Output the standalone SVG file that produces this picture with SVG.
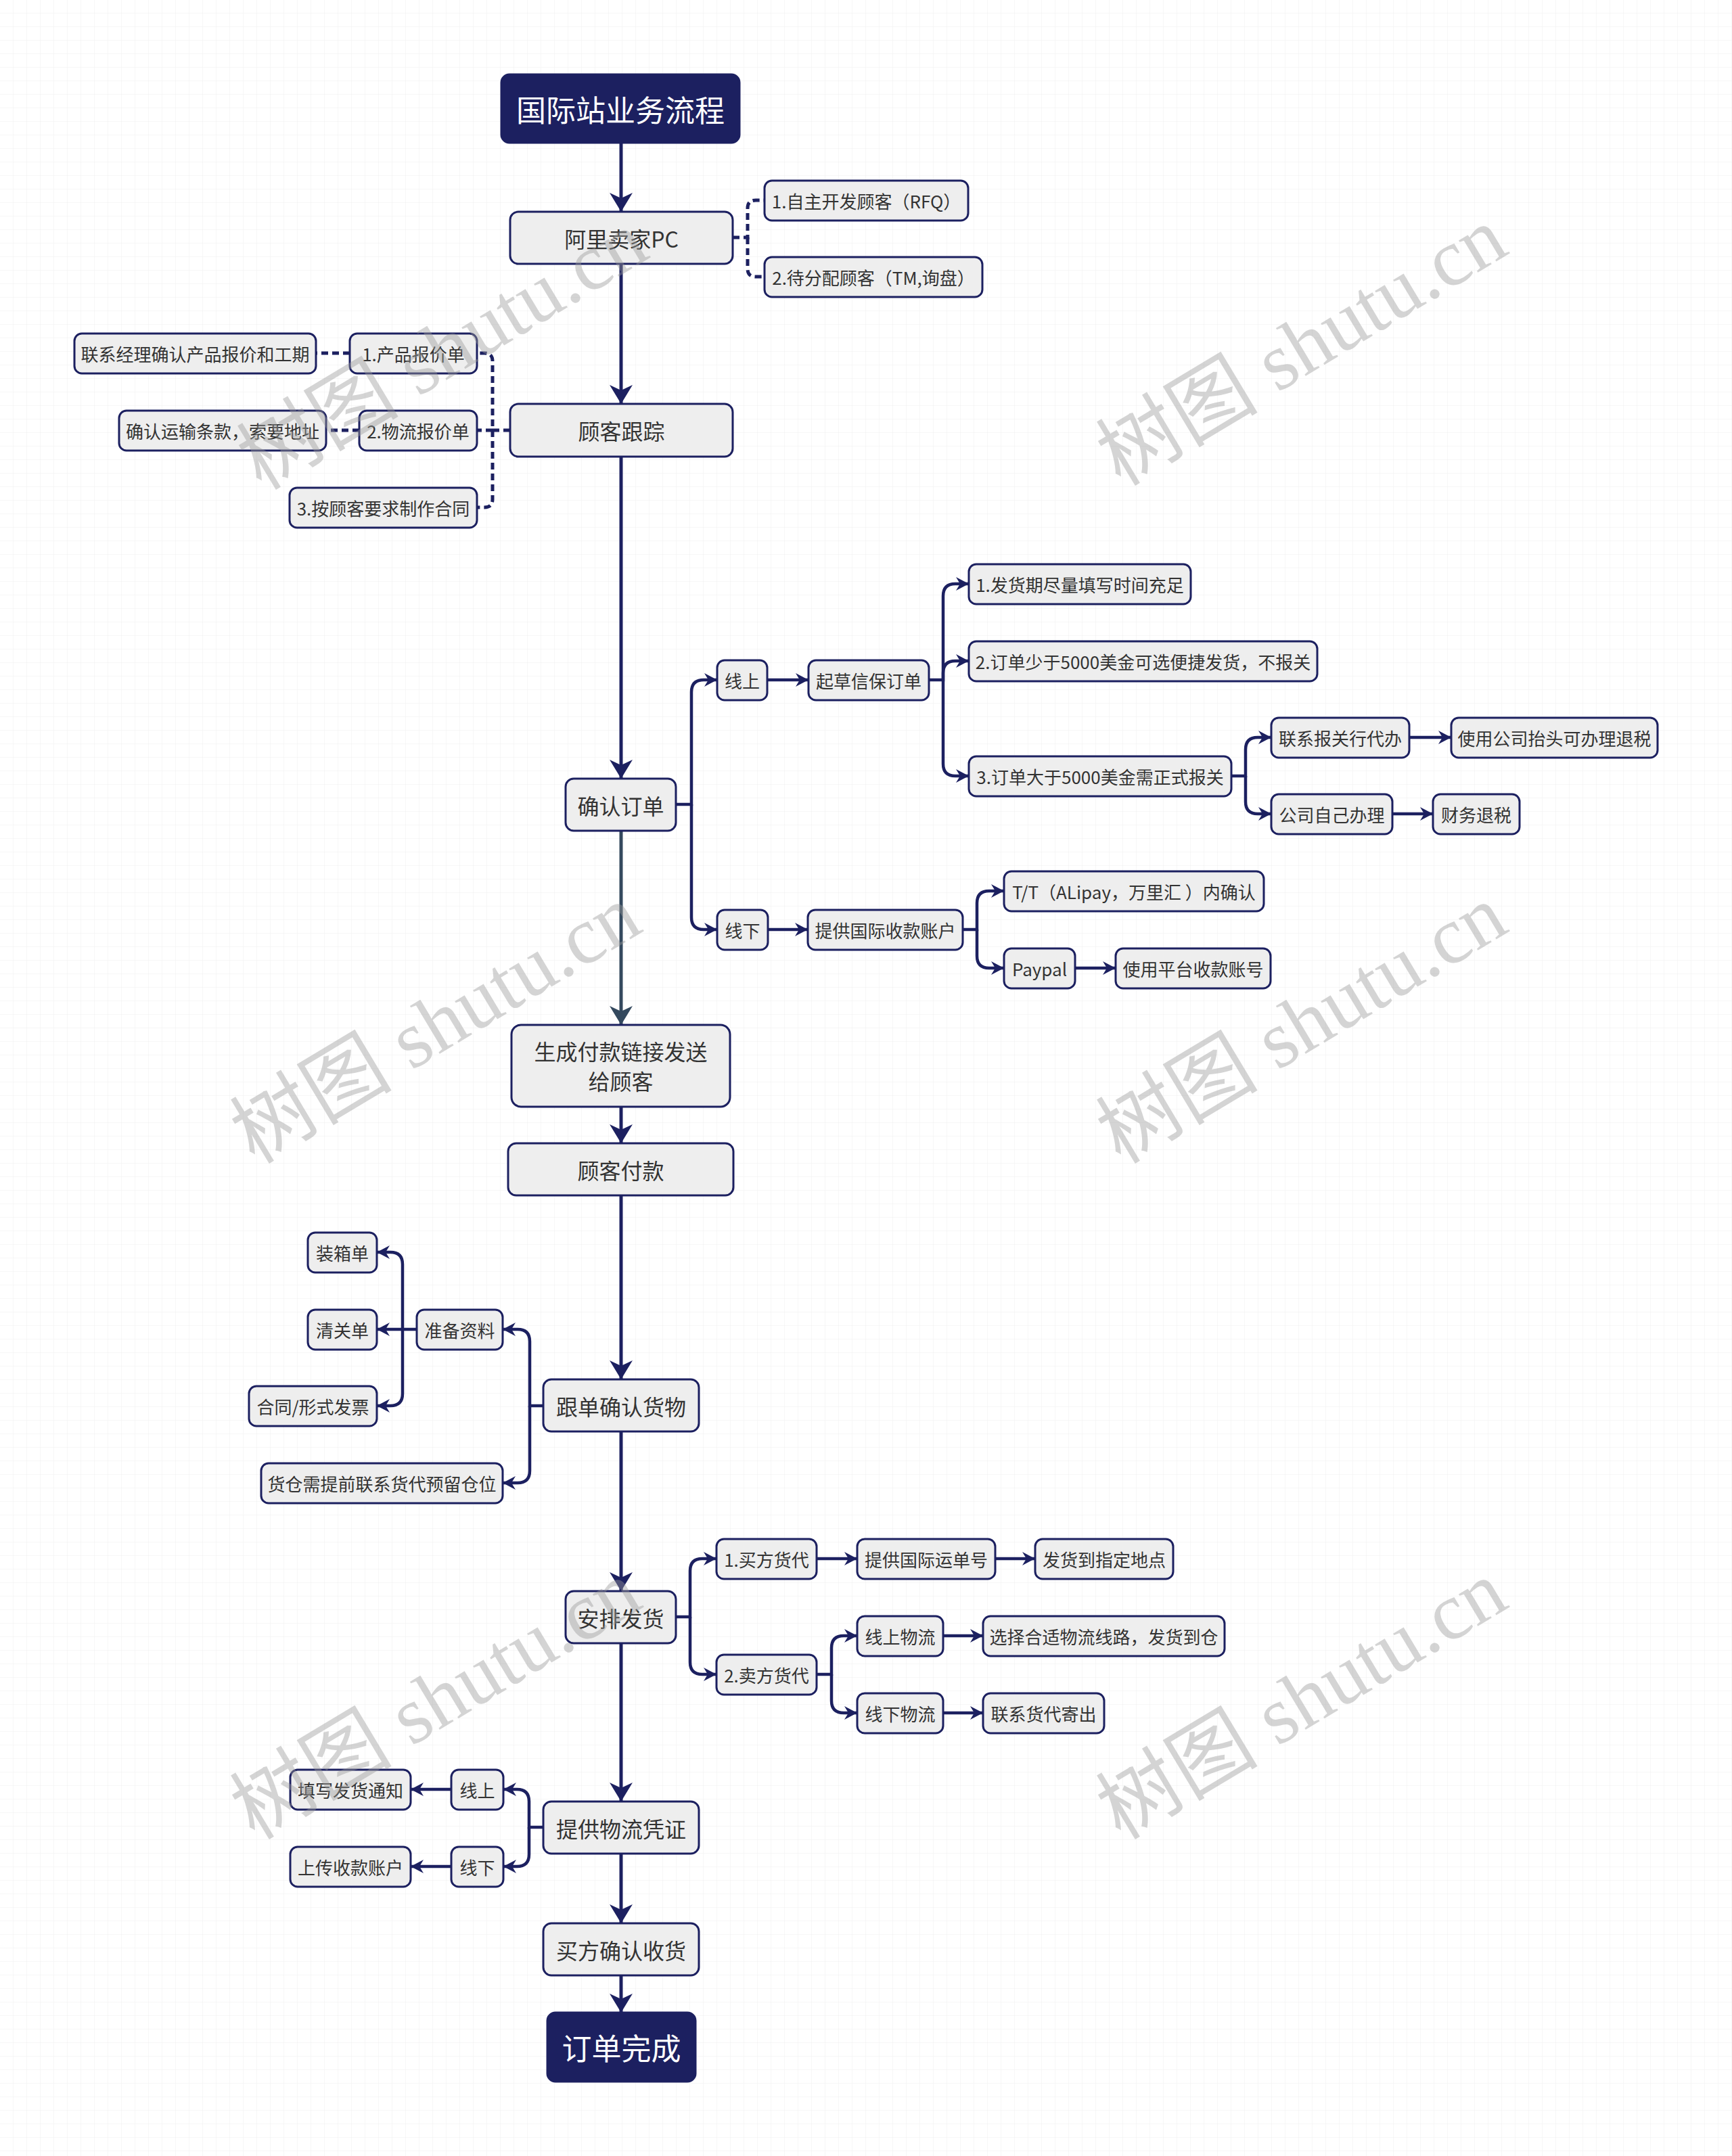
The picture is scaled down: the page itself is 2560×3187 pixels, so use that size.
<svg xmlns="http://www.w3.org/2000/svg" width="2560" height="3187" viewBox="0 0 2560 3187">
<defs>
<pattern id="grid" width="20" height="20" patternUnits="userSpaceOnUse">
<path d="M20,0 V20 H0" fill="none" stroke="#efefef" stroke-width="1"/>
</pattern>
<marker id="am" viewBox="0 0 30 34" markerWidth="30" markerHeight="34" refX="28" refY="17" orient="auto" markerUnits="userSpaceOnUse"><path d="M0,0 L28,17 L0,34 L8,17 Z" fill="#1c2060"/></marker>
<marker id="am2" viewBox="0 0 30 34" markerWidth="30" markerHeight="34" refX="28" refY="17" orient="auto" markerUnits="userSpaceOnUse"><path d="M0,0 L28,17 L0,34 L8,17 Z" fill="#34495e"/></marker>
<marker id="as" viewBox="0 0 22 22" markerWidth="22" markerHeight="22" refX="19" refY="11" orient="auto" markerUnits="userSpaceOnUse"><path d="M0,1 L19,11 L0,21 L6,11 Z" fill="#1c2060"/></marker>
<style>
.n rect{fill:#eeeeee;stroke:#1c2060;stroke-width:3}
.d rect{fill:#1c2060;stroke:#1c2060;stroke-width:3}
text{font-family:"Noto Sans CJK SC","Noto Sans",sans-serif;text-anchor:middle;dominant-baseline:central}
.n text{fill:#333333}
.d text{fill:#ffffff;font-size:44px}
.s text{font-size:26px}
.m text{font-size:32px}
.c path{fill:none;stroke:#1c2060;stroke-width:4.5}
.c .sp{marker-end:url(#am);stroke-width:5}
.c .br{marker-end:url(#as)}
.c .dash{stroke-dasharray:10 6;stroke-width:5}
.wm{font-family:"Liberation Serif","Noto Sans CJK SC",serif;font-size:120px;fill:#9a9a9a;opacity:0.42}
</style>
</defs>
<rect width="2560" height="3187" fill="#ffffff"/>
<rect width="2560" height="3187" fill="url(#grid)"/>

<g class="c" id="connectors">
<path class="sp" d="M918,211 V313"/>
<path class="sp" d="M918,390 V597"/>
<path class="sp" d="M918,675 V1151"/>
<path d="M918,1228 V1515" style="stroke:#34495e;stroke-width:5;marker-end:url(#am2)"/>
<path class="sp" d="M918,1636 V1690"/>
<path class="sp" d="M918,1767 V2039"/>
<path class="sp" d="M918,2116 V2352"/>
<path class="sp" d="M918,2429 V2663"/>
<path class="sp" d="M918,2740 V2843"/>
<path class="sp" d="M918,2920 V2975"/>
<path class="dash" d="M1083,351 H1105 V308 Q1105,296 1117,296 H1130"/>
<path class="dash" d="M1105,351 V397 Q1105,409 1117,409 H1130"/>
<path class="dash" d="M754,636 H728 V534 Q728,522 716,522 H705"/>
<path class="dash" d="M728,636 H705"/>
<path class="dash" d="M728,636 V738 Q728,750 716,750 H705"/>
<path class="dash" d="M517,522 H467"/>
<path class="dash" d="M531,636 H482"/>
<path class="br" d="M999,1189 H1022 V1023 Q1022,1005 1040,1005 H1060"/>
<path class="br" d="M1022,1189 V1356 Q1022,1374 1040,1374 H1060"/>
<path class="br" d="M1134,1005 H1195"/>
<path class="br" d="M1373,1005 H1394 V881 Q1394,863 1412,863 H1432"/>
<path class="br" d="M1394,1005 V995 Q1394,977 1412,977 H1432"/>
<path class="br" d="M1394,1005 V1129 Q1394,1147 1412,1147 H1432"/>
<path class="br" d="M1820,1147 H1841 V1108 Q1841,1090 1859,1090 H1879"/>
<path class="br" d="M1841,1147 V1185 Q1841,1203 1859,1203 H1879"/>
<path class="br" d="M2083,1090 H2145"/>
<path class="br" d="M2058,1203 H2118"/>
<path class="br" d="M1135,1374 H1194"/>
<path class="br" d="M1423,1374 H1444 V1335 Q1444,1317 1462,1317 H1484"/>
<path class="br" d="M1444,1374 V1413 Q1444,1431 1462,1431 H1484"/>
<path class="br" d="M1589,1431 H1649"/>
<path class="br" d="M803,2078 H783 V1983 Q783,1965 765,1965 H743"/>
<path class="br" d="M783,2078 V2174 Q783,2192 765,2192 H743"/>
<path class="br" d="M616,1965 H595 V1869 Q595,1851 577,1851 H557"/>
<path class="br" d="M595,1965 H557"/>
<path class="br" d="M595,1965 V2060 Q595,2078 577,2078 H557"/>
<path class="br" d="M999,2390 H1020 V2322 Q1020,2304 1038,2304 H1059"/>
<path class="br" d="M1020,2390 V2457 Q1020,2475 1038,2475 H1059"/>
<path class="br" d="M1207,2304 H1267"/>
<path class="br" d="M1471,2304 H1530"/>
<path class="br" d="M1207,2475 H1229 V2436 Q1229,2418 1247,2418 H1267"/>
<path class="br" d="M1229,2475 V2514 Q1229,2532 1247,2532 H1267"/>
<path class="br" d="M1394,2418 H1453"/>
<path class="br" d="M1394,2532 H1453"/>
<path class="br" d="M803,2701 H782 V2663 Q782,2645 764,2645 H744"/>
<path class="br" d="M782,2701 V2741 Q782,2759 764,2759 H744"/>
<path class="br" d="M667,2645 H607"/>
<path class="br" d="M667,2759 H607"/>
</g>

<g id="n_title" class="d"><rect x="741" y="110" width="352" height="101" rx="12"/><text x="917" y="161">国际站业务流程</text></g>
<g id="n_ali" class="n m"><rect x="754" y="313" width="329" height="77" rx="12"/><text x="918.5" y="351.5">阿里卖家PC</text></g>
<g id="n_rfq" class="n s"><rect x="1130" y="267" width="301" height="59" rx="11"/><text x="1280.5" y="296.5">1.自主开发顾客（RFQ）</text></g>
<g id="n_tm" class="n s"><rect x="1130" y="380" width="322" height="59" rx="11"/><text x="1291" y="409.5">2.待分配顾客（TM,询盘）</text></g>
<g id="n_track" class="n m"><rect x="754" y="597" width="329" height="78" rx="12"/><text x="918.5" y="636">顾客跟踪</text></g>
<g id="n_p1" class="n s"><rect x="517" y="493" width="188" height="59" rx="11"/><text x="611" y="522.5">1.产品报价单</text></g>
<g id="n_p1a" class="n s"><rect x="110" y="493" width="357" height="59" rx="11"/><text x="288.5" y="522.5">联系经理确认产品报价和工期</text></g>
<g id="n_p2" class="n s"><rect x="531" y="607" width="174" height="59" rx="11"/><text x="618" y="636.5">2.物流报价单</text></g>
<g id="n_p2a" class="n s"><rect x="176" y="607" width="306" height="59" rx="11"/><text x="329" y="636.5">确认运输条款，索要地址</text></g>
<g id="n_p3" class="n s"><rect x="428" y="721" width="277" height="59" rx="11"/><text x="566.5" y="750.5">3.按顾客要求制作合同</text></g>
<g id="n_confirm" class="n m"><rect x="836" y="1151" width="163" height="77" rx="12"/><text x="917.5" y="1189.5">确认订单</text></g>
<g id="n_online" class="n s"><rect x="1060" y="976" width="74" height="59" rx="11"/><text x="1097" y="1005.5">线上</text></g>
<g id="n_draft" class="n s"><rect x="1195" y="976" width="178" height="59" rx="11"/><text x="1284" y="1005.5">起草信保订单</text></g>
<g id="n_d1" class="n s"><rect x="1432" y="834" width="328" height="59" rx="11"/><text x="1596" y="863.5">1.发货期尽量填写时间充足</text></g>
<g id="n_d2" class="n s"><rect x="1432" y="948" width="515" height="59" rx="11"/><text x="1689.5" y="977.5">2.订单少于5000美金可选便捷发货，不报关</text></g>
<g id="n_d3" class="n s"><rect x="1432" y="1118" width="388" height="59" rx="11"/><text x="1626" y="1147.5">3.订单大于5000美金需正式报关</text></g>
<g id="n_agent" class="n s"><rect x="1879" y="1061" width="204" height="59" rx="11"/><text x="1981" y="1090.5">联系报关行代办</text></g>
<g id="n_tax1" class="n s"><rect x="2145" y="1061" width="305" height="59" rx="11"/><text x="2297.5" y="1090.5">使用公司抬头可办理退税</text></g>
<g id="n_self" class="n s"><rect x="1879" y="1174" width="179" height="59" rx="11"/><text x="1968.5" y="1203.5">公司自己办理</text></g>
<g id="n_tax2" class="n s"><rect x="2118" y="1174" width="128" height="59" rx="11"/><text x="2182" y="1203.5">财务退税</text></g>
<g id="n_offline" class="n s"><rect x="1060" y="1345" width="75" height="59" rx="11"/><text x="1097.5" y="1374.5">线下</text></g>
<g id="n_acct" class="n s"><rect x="1194" y="1345" width="229" height="59" rx="11"/><text x="1308.5" y="1374.5">提供国际收款账户</text></g>
<g id="n_tt" class="n s"><rect x="1484" y="1288" width="384" height="59" rx="11"/><text x="1676" y="1317.5">T/T（ALipay，万里汇 ）内确认</text></g>
<g id="n_paypal" class="n s"><rect x="1484" y="1402" width="105" height="59" rx="11"/><text x="1536.5" y="1431.5">Paypal</text></g>
<g id="n_plat" class="n s"><rect x="1649" y="1402" width="229" height="59" rx="11"/><text x="1763.5" y="1431.5">使用平台收款账号</text></g>
<g id="n_link" class="n m"><rect x="756" y="1515" width="323" height="121" rx="14"/><text x="917.5" y="1553">生成付款链接发送</text><text x="917.5" y="1597">给顾客</text></g>
<g id="n_pay" class="n m"><rect x="751" y="1690" width="333" height="77" rx="12"/><text x="917.5" y="1728.5">顾客付款</text></g>
<g id="n_follow" class="n m"><rect x="803" y="2039" width="230" height="77" rx="12"/><text x="918" y="2077.5">跟单确认货物</text></g>
<g id="n_prep" class="n s"><rect x="616" y="1936" width="127" height="59" rx="11"/><text x="679.5" y="1965.5">准备资料</text></g>
<g id="n_wh" class="n s"><rect x="386" y="2163" width="357" height="59" rx="11"/><text x="564.5" y="2192.5">货仓需提前联系货代预留仓位</text></g>
<g id="n_box" class="n s"><rect x="455" y="1822" width="102" height="59" rx="11"/><text x="506" y="1851.5">装箱单</text></g>
<g id="n_clear" class="n s"><rect x="455" y="1936" width="102" height="59" rx="11"/><text x="506" y="1965.5">清关单</text></g>
<g id="n_contract" class="n s"><rect x="368" y="2049" width="189" height="59" rx="11"/><text x="462.5" y="2078.5">合同/形式发票</text></g>
<g id="n_ship" class="n m"><rect x="836" y="2352" width="163" height="77" rx="12"/><text x="917.5" y="2390.5">安排发货</text></g>
<g id="n_buyer" class="n s"><rect x="1059" y="2275" width="148" height="59" rx="11"/><text x="1133" y="2304.5">1.买方货代</text></g>
<g id="n_waybill" class="n s"><rect x="1267" y="2275" width="204" height="59" rx="11"/><text x="1369" y="2304.5">提供国际运单号</text></g>
<g id="n_dest" class="n s"><rect x="1530" y="2275" width="204" height="59" rx="11"/><text x="1632" y="2304.5">发货到指定地点</text></g>
<g id="n_seller" class="n s"><rect x="1059" y="2446" width="148" height="59" rx="11"/><text x="1133" y="2475.5">2.卖方货代</text></g>
<g id="n_onlog" class="n s"><rect x="1267" y="2389" width="127" height="59" rx="11"/><text x="1330.5" y="2418.5">线上物流</text></g>
<g id="n_route" class="n s"><rect x="1453" y="2389" width="357" height="59" rx="11"/><text x="1631.5" y="2418.5">选择合适物流线路，发货到仓</text></g>
<g id="n_offlog" class="n s"><rect x="1267" y="2503" width="127" height="59" rx="11"/><text x="1330.5" y="2532.5">线下物流</text></g>
<g id="n_fwd" class="n s"><rect x="1453" y="2503" width="179" height="59" rx="11"/><text x="1542.5" y="2532.5">联系货代寄出</text></g>
<g id="n_proof" class="n m"><rect x="803" y="2663" width="230" height="77" rx="12"/><text x="918" y="2701.5">提供物流凭证</text></g>
<g id="n_on2" class="n s"><rect x="667" y="2616" width="77" height="59" rx="11"/><text x="705.5" y="2645.5">线上</text></g>
<g id="n_notice" class="n s"><rect x="429" y="2616" width="178" height="59" rx="11"/><text x="518" y="2645.5">填写发货通知</text></g>
<g id="n_off2" class="n s"><rect x="667" y="2730" width="77" height="59" rx="11"/><text x="705.5" y="2759.5">线下</text></g>
<g id="n_upload" class="n s"><rect x="429" y="2730" width="178" height="59" rx="11"/><text x="518" y="2759.5">上传收款账户</text></g>
<g id="n_recv" class="n m"><rect x="803" y="2843" width="230" height="77" rx="12"/><text x="918" y="2881.5">买方确认收货</text></g>
<g id="n_done" class="d"><rect x="809" y="2975" width="219" height="102" rx="12"/><text x="918.5" y="3026">订单完成</text></g>

<g id="watermarks">
<text class="wm" transform="translate(654,518) rotate(-31)">树图 shutu.cn</text>
<text class="wm" transform="translate(1924,512) rotate(-31)">树图 shutu.cn</text>
<text class="wm" transform="translate(644,1514) rotate(-31)">树图 shutu.cn</text>
<text class="wm" transform="translate(1924,1514) rotate(-31)">树图 shutu.cn</text>
<text class="wm" transform="translate(644,2513) rotate(-31)">树图 shutu.cn</text>
<text class="wm" transform="translate(1924,2513) rotate(-31)">树图 shutu.cn</text>
</g>
</svg>
